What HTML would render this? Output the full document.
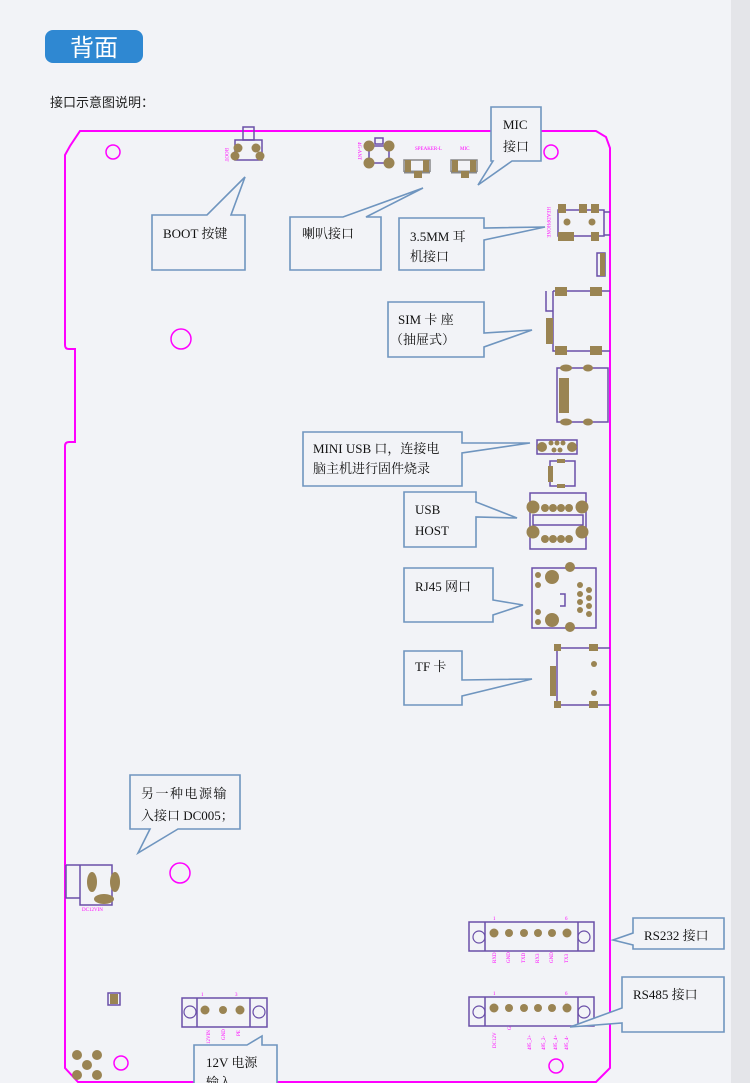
<!DOCTYPE html>
<html><head><meta charset="utf-8"><style>
html,body{margin:0;padding:0;background:#f2f3f7;}
svg{display:block}
text{font-family:"Liberation Serif","Noto Serif CJK SC","Noto Sans CJK SC",serif;}
.s{font-family:"Liberation Sans","Noto Sans CJK SC",sans-serif;}
</style></head><body>
<svg width="750" height="1083" viewBox="0 0 750 1083" xmlns="http://www.w3.org/2000/svg">
<rect width="750" height="1083" fill="#f2f3f7"/>
<rect x="731" y="0" width="19" height="1083" fill="#e4e5e9"/>
<!-- title -->
<rect x="45" y="30" width="98" height="33" rx="8" fill="#2f88d2"/>
<text x="94" y="56" text-anchor="middle" fill="#fff" font-size="24" class="s" style="font-family:'Noto Sans CJK SC',sans-serif">背面</text>
<text x="50" y="107" font-size="13" fill="#222" style="font-family:'Noto Sans CJK SC',sans-serif">接口示意图说明：</text>

<!-- board outline -->
<path d="M80,131 L596,131 L606,137 L610,148 L610,1068 L596,1082 L78,1082 L65,1068 L65,446 Q65,442 69,442 L75,442 L75,349 L69,349 Q65,349 65,345 L65,155 L70,146 Z" fill="none" stroke="#ff00ff" stroke-width="2"/>
<g fill="none" stroke="#ff00ff" stroke-width="1.5">
<circle cx="113" cy="152" r="7"/><circle cx="551" cy="152" r="7"/>
<circle cx="181" cy="339" r="10"/><circle cx="180" cy="873" r="10"/>
<circle cx="121" cy="1063" r="7"/><circle cx="556" cy="1066" r="7"/>
</g>

<g stroke="#6a4fa8" stroke-width="1.5" fill="none">
<!-- BOOT -->
<rect x="243" y="127" width="11" height="13"/><rect x="235" y="140" width="27" height="20"/>
<!-- 4G ant -->
<rect x="369" y="146" width="20" height="17"/><rect x="375" y="138" width="8" height="6"/>
<!-- speaker / mic -->
<path d="M404,172 V160 H430 V172 M451,172 V160 H477 V172" stroke="#888"/>
<path d="M404,172 H430 M451,172 H477" stroke="#888" stroke-width="3"/>
<!-- headphone -->
<path d="M558,210 H604 V236 H558 Z M604,212 H610 M604,235 H610"/>
<rect x="597" y="253" width="8" height="23"/>
<!-- SIM -->
<path d="M546,291 V311 H553 V291 M553,291 H610 M553,291 V351 H610"/>
<!-- micro sd -->
<path d="M557,368 V422 H608 V368 Z"/>
<!-- mini usb -->
<rect x="537" y="440" width="40" height="14"/>
<rect x="550" y="461" width="25" height="25"/>
<!-- usb host -->
<rect x="530" y="493" width="56" height="56"/><rect x="533" y="515" width="50" height="10"/>
<!-- rj45 -->
<rect x="532" y="568" width="64" height="60"/>
<path d="M560,594 h5 v12 h-5" />
<!-- TF -->
<path d="M557,648 V705 H610 M557,648 H610"/>
<!-- DC jack -->
<path d="M66,865 H112 V905 H80 V865 M66,865 V898 H80"/>
<!-- RS232 -->
<rect x="469" y="922" width="125" height="29"/><path d="M485,922 V951 M578,922 V951"/>
<rect x="469" y="997" width="125" height="29"/><path d="M485,997 V1026 M578,997 V1026"/>
<rect x="182" y="998" width="85" height="29"/><path d="M197,998 V1027 M250,998 V1027"/>
<rect x="108" y="993" width="12" height="12"/>
</g>
<g fill="#9a8453">
<circle cx="238" cy="148" r="4.5"/><circle cx="256" cy="148" r="4.5"/><circle cx="235" cy="156" r="4.5"/><circle cx="260" cy="156" r="4.5"/>
<circle cx="369" cy="146" r="5.5"/><circle cx="389" cy="146" r="5.5"/><circle cx="369" cy="163" r="5.5"/><circle cx="389" cy="163" r="5.5"/>
<rect x="405" y="160" width="6" height="12"/><rect x="423" y="160" width="6" height="12"/><rect x="414" y="171" width="8" height="7"/>
<rect x="452" y="160" width="6" height="12"/><rect x="470" y="160" width="6" height="12"/><rect x="461" y="171" width="8" height="7"/>
<rect x="558" y="204" width="8" height="9"/><rect x="579" y="204" width="8" height="9"/><rect x="591" y="204" width="8" height="9"/>
<rect x="558" y="232" width="8" height="9"/><rect x="566" y="232" width="8" height="9"/><rect x="591" y="232" width="8" height="9"/>
<circle cx="567" cy="222" r="3.5"/><circle cx="592" cy="222" r="3.5"/>
<rect x="600" y="253" width="5" height="23"/>
<rect x="555" y="287" width="12" height="9"/><rect x="590" y="287" width="12" height="9"/>
<rect x="555" y="346" width="12" height="9"/><rect x="590" y="346" width="12" height="9"/>
<rect x="546" y="318" width="7" height="26"/>
<ellipse cx="566" cy="368" rx="6" ry="3.5"/><ellipse cx="588" cy="368" rx="5" ry="3.5"/>
<ellipse cx="566" cy="422" rx="6" ry="3.5"/><ellipse cx="588" cy="422" rx="5" ry="3.5"/>
<rect x="559" y="378" width="10" height="35"/>
<circle cx="542" cy="447" r="5"/><circle cx="572" cy="447" r="5"/><circle cx="551" cy="443" r="2.5"/><circle cx="557" cy="443" r="2.5"/><circle cx="563" cy="443" r="2.5"/><circle cx="554" cy="450" r="2.5"/><circle cx="560" cy="450" r="2.5"/>
<rect x="557" y="459" width="8" height="4"/><rect x="557" y="484" width="8" height="4"/><rect x="548" y="466" width="5" height="16"/>
<circle cx="533" cy="507" r="6.5"/><circle cx="582" cy="507" r="6.5"/><circle cx="533" cy="532" r="6.5"/><circle cx="582" cy="532" r="6.5"/>
<circle cx="545" cy="508" r="4"/><circle cx="553" cy="508" r="4"/><circle cx="561" cy="508" r="4"/><circle cx="569" cy="508" r="4"/>
<circle cx="545" cy="539" r="4"/><circle cx="553" cy="539" r="4"/><circle cx="561" cy="539" r="4"/><circle cx="569" cy="539" r="4"/>
<circle cx="552" cy="577" r="7"/><circle cx="552" cy="620" r="7"/><circle cx="570" cy="567" r="5"/><circle cx="570" cy="627" r="5"/>
<circle cx="538" cy="575" r="3"/><circle cx="538" cy="585" r="3"/><circle cx="538" cy="612" r="3"/><circle cx="538" cy="622" r="3"/>
<circle cx="580" cy="585" r="3"/><circle cx="589" cy="590" r="3"/><circle cx="580" cy="594" r="3"/><circle cx="589" cy="598" r="3"/><circle cx="580" cy="602" r="3"/><circle cx="589" cy="606" r="3"/><circle cx="580" cy="610" r="3"/><circle cx="589" cy="614" r="3"/>
<rect x="554" y="644" width="7" height="7"/><rect x="589" y="644" width="9" height="7"/><rect x="554" y="701" width="7" height="7"/><rect x="589" y="701" width="9" height="7"/>
<rect x="550" y="666" width="6" height="30"/><circle cx="594" cy="664" r="3"/><circle cx="594" cy="693" r="3"/>
<ellipse cx="92" cy="882" rx="5" ry="10"/><ellipse cx="115" cy="882" rx="5" ry="10"/><ellipse cx="104" cy="899" rx="10" ry="5"/>
<g id="p6"><circle cx="494" cy="933" r="4.5"/><circle cx="509" cy="933" r="4"/><circle cx="524" cy="933" r="4"/><circle cx="538" cy="933" r="4"/><circle cx="552" cy="933" r="4"/><circle cx="567" cy="933" r="4.5"/></g>
<use href="#p6" y="75"/>
<circle cx="205" cy="1010" r="4.5"/><circle cx="223" cy="1010" r="4"/><circle cx="240" cy="1010" r="4.5"/>
<rect x="110" y="994" width="8" height="10"/>
<circle cx="77" cy="1055" r="5"/><circle cx="97" cy="1055" r="5"/><circle cx="87" cy="1065" r="5"/><circle cx="77" cy="1075" r="5"/><circle cx="97" cy="1075" r="5"/>
</g>
<g fill="none" stroke="#6a4fa8" stroke-width="1.2">
<circle cx="479" cy="937" r="6"/><circle cx="584" cy="937" r="6"/>
<circle cx="479" cy="1012" r="6"/><circle cx="584" cy="1012" r="6"/>
<circle cx="190" cy="1012" r="6"/><circle cx="259" cy="1012" r="6"/>
</g>
<!-- magenta labels -->
<g fill="#ff00ff" font-size="5" class="s">
<text x="415" y="150">SPEAKER-L</text><text x="460" y="150">MIC</text>
<text x="82" y="911">DC12VIN</text>
<text x="493" y="920">1</text><text x="565" y="920">6</text>
<text x="493" y="995">1</text><text x="565" y="995">6</text>
<text x="201" y="996">1</text><text x="235" y="996">3</text>
</g>
<g fill="#ff00ff" font-size="5" class="s">
<text transform="translate(496,963) rotate(-90)">RXD</text><text transform="translate(510,963) rotate(-90)">GND</text><text transform="translate(525,963) rotate(-90)">TXD</text><text transform="translate(539,963) rotate(-90)">RX3</text><text transform="translate(553,963) rotate(-90)">GND</text><text transform="translate(568,963) rotate(-90)">TX3</text>
<text transform="translate(496,1048) rotate(-90)">DC12V</text><text transform="translate(511,1030) rotate(-90)">G</text><text transform="translate(531,1050) rotate(-90)">485_2+</text><text transform="translate(545,1050) rotate(-90)">485_2-</text><text transform="translate(557,1050) rotate(-90)">485_4+</text><text transform="translate(568,1050) rotate(-90)">485_4-</text>
<text transform="translate(210,1044) rotate(-90)">12VIN</text><text transform="translate(225,1040) rotate(-90)">GND</text><text transform="translate(240,1036) rotate(-90)">PE</text>
<text transform="translate(225,148) rotate(90)">BOOT</text><text transform="translate(358,142) rotate(90)">4G-ANT</text>
<text transform="translate(547,207) rotate(90)">HEADPHONE</text>
</g>

<!-- callouts -->
<g fill="#f2f3f7" stroke="#6f95bf" stroke-width="1.6" stroke-linejoin="miter">
<path d="M152,215 H207 L245,177 L231,215 H245 V270 H152 Z"/>
<path d="M290,217 H343 L423,188 L366,217 H381 V270 H290 Z"/>
<path d="M399,218 H484 V228 L545,227 L484,240 V270 H399 Z"/>
<path d="M491,107 H541 V161 H512 L478,185 L493,161 H491 Z"/>
<path d="M388,302 H484 V333 L532,330 L484,347 V357 H388 Z"/>
<path d="M303,432 H462 V443 L530,443 L462,453 V486 H303 Z"/>
<path d="M404,492 H476 V502 L517,518 L476,517 V547 H404 Z"/>
<path d="M404,568 H493 V600 L523,605 L493,615 V622 H404 Z"/>
<path d="M404,651 H462 V680 L532,679 L462,696 V705 H404 Z"/>
<path d="M130,775 H240 V829 H178 L138,853 L150,829 H130 Z"/>
<path d="M633,918 H724 V949 H633 V945 L613,940 L633,933 Z"/>
<path d="M622,977 H724 V1032 H622 V1023 L570,1027 L622,1008 Z"/>
<path d="M194,1045 H247 L262,1036 V1045 H277 V1090 H194 Z"/>
</g>
<g font-size="13" fill="#111">
<text x="163" y="238">BOOT 按键</text>
<text x="302" y="238">喇叭接口</text>
<text x="410" y="241">3.5MM  耳</text><text x="410" y="261">机接口</text>
<text x="503" y="129">MIC</text><text x="503" y="151">接口</text>
<text x="398" y="324">SIM    卡  座</text><text x="390" y="344">（抽屉式）</text>
<text x="313" y="453">MINI  USB 口，连接电</text><text x="313" y="473">脑主机进行固件烧录</text>
<text x="415" y="514">USB</text><text x="415" y="535">HOST</text>
<text x="415" y="591">RJ45 网口</text>
<text x="415" y="671">TF 卡</text>
<text x="141" y="798" letter-spacing="1.5">另一种电源输</text><text x="141" y="820">入接口 DC005；</text>
<text x="644" y="940">RS232 接口</text>
<text x="633" y="999">RS485 接口</text>
<text x="206" y="1067">12V  电源</text><text x="206" y="1087">输入</text>
</g>
</svg>
</body></html>
